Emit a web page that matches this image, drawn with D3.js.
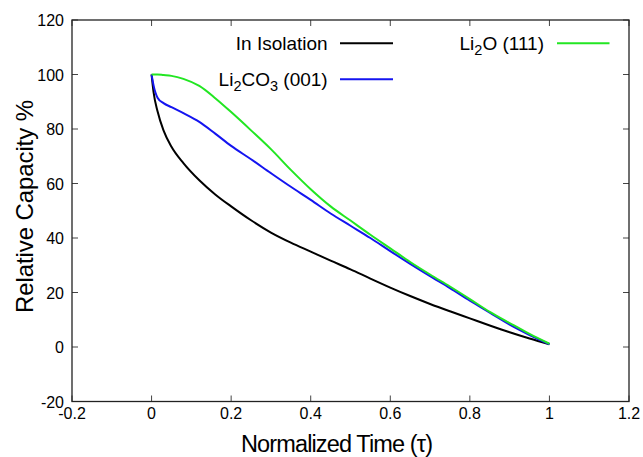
<!DOCTYPE html>
<html><head><meta charset="utf-8">
<script src="https://cdn.jsdelivr.net/npm/d3@7"></script>
<style>body{margin:0;background:#fff}svg{display:block}text{font-family:"Liberation Sans",Arial,Helvetica,sans-serif}</style>
</head><body><svg id="c" width="643" height="457"></svg>
<script>
const tau = [0,0.005,0.015,0.03,0.05,0.08,0.12,0.16,0.2,0.25,0.3,0.35,0.4,0.45,0.5,0.55,0.6,0.65,0.7,0.75,0.8,0.85,0.9,0.95,1.0];
const isolation = [100,93.5,86.5,79.5,73.5,67.5,61.2,56,51.6,46.5,42,38.3,35,31.7,28.5,25.1,21.8,18.7,15.8,13.1,10.5,7.9,5.4,3.1,1];
const li2co3 = [100,96,91.5,89.5,88,85.8,82.6,78.3,73.8,68.9,63.8,58.8,54,49,44.5,40,35.2,30.5,26,21.6,17,12.6,8.2,4.4,1];
const li2o = [100,100,100,99.8,99.5,98.4,95.8,91.3,86.2,79.5,72.6,65,57.9,51.6,46.4,41.2,36.2,31.2,26.6,22.2,17.6,12.9,8.8,4.8,1.2];
const xTicks = [-0.2,0,0.2,0.4,0.6,0.8,1,1.2];
const yTicks = [-20,0,20,40,60,80,100,120];

const svg = d3.select("#c");
const L=72, R=629, T=20, B=401.5;
const x = d3.scaleLinear().domain([-0.2,1.2]).range([L,R]);
const y = d3.scaleLinear().domain([-20,120]).range([B,T]);
const tickCol="#444", tl=6;

const g = svg.append("g");
xTicks.forEach(t=>{
  g.append("line").attr("x1",x(t)).attr("x2",x(t)).attr("y1",B).attr("y2",B-tl).attr("stroke",tickCol);
  g.append("line").attr("x1",x(t)).attr("x2",x(t)).attr("y1",T).attr("y2",T+tl).attr("stroke",tickCol);
  g.append("text").attr("x",x(t)).attr("y",B+17).attr("text-anchor","middle").attr("font-size",16).text(t===0||t===1?String(t):t.toFixed(1));
});
yTicks.forEach(t=>{
  g.append("line").attr("x1",L).attr("x2",L+tl).attr("y1",y(t)).attr("y2",y(t)).attr("stroke",tickCol);
  g.append("line").attr("x1",R).attr("x2",R-tl).attr("y1",y(t)).attr("y2",y(t)).attr("stroke",tickCol);
  g.append("text").attr("x",L-8).attr("y",y(t)+6).attr("text-anchor","end").attr("font-size",16).text(String(t));
});
svg.append("rect").attr("x",L).attr("y",T).attr("width",R-L).attr("height",B-T).attr("fill","none").attr("stroke","#222").attr("stroke-width",1.3);

const line = d3.line().x((d,i)=>x(tau[i])).y(d=>y(d)).curve(d3.curveMonotoneX);
const series = [
  {v:isolation,c:"#000000"},
  {v:li2co3,c:"#1414f0"},
  {v:li2o,c:"#22e622"}
];
series.forEach(s=>svg.append("path").attr("d",line(s.v)).attr("fill","none").attr("stroke",s.c).attr("stroke-width",2));

function legendText(xe,yc,parts){
  const t=svg.append("text").attr("x",xe).attr("y",yc+6.5).attr("text-anchor","end").attr("font-size",19);
  parts.forEach(p=>{
    if(p.sub){ t.append("tspan").attr("font-size",14.5).attr("dy",5).text(p.t); }
    else { t.append("tspan").attr("dy",p.up?-5:0).text(p.t); }
  });
}
legendText(327.7,43.3,[{t:"In Isolation"}]);
svg.append("line").attr("x1",340).attr("x2",393).attr("y1",43.3).attr("y2",43.3).attr("stroke","#000").attr("stroke-width",2);
legendText(327.7,79.3,[{t:"Li"},{t:"2",sub:1},{t:"CO",up:1},{t:"3",sub:1},{t:" (001)",up:1}]);
svg.append("line").attr("x1",340).attr("x2",393).attr("y1",79.3).attr("y2",79.3).attr("stroke","#1414f0").attr("stroke-width",2);
legendText(544,43.3,[{t:"Li"},{t:"2",sub:1},{t:"O (111)",up:1}]);
svg.append("line").attr("x1",557).attr("x2",609.5).attr("y1",43.3).attr("y2",43.3).attr("stroke","#22e622").attr("stroke-width",2);

svg.append("text").attr("x",337).attr("y",451.5).attr("text-anchor","middle").attr("font-size",23.5)
  .attr("textLength",192).attr("lengthAdjust","spacing").text("Normalized Time (\u03c4)");
svg.append("text").attr("transform",`translate(32.5,206.5) rotate(-90)`).attr("text-anchor","middle").attr("font-size",24)
  .attr("textLength",213).attr("lengthAdjust","spacing").text("Relative Capacity %");
</script></body></html>
